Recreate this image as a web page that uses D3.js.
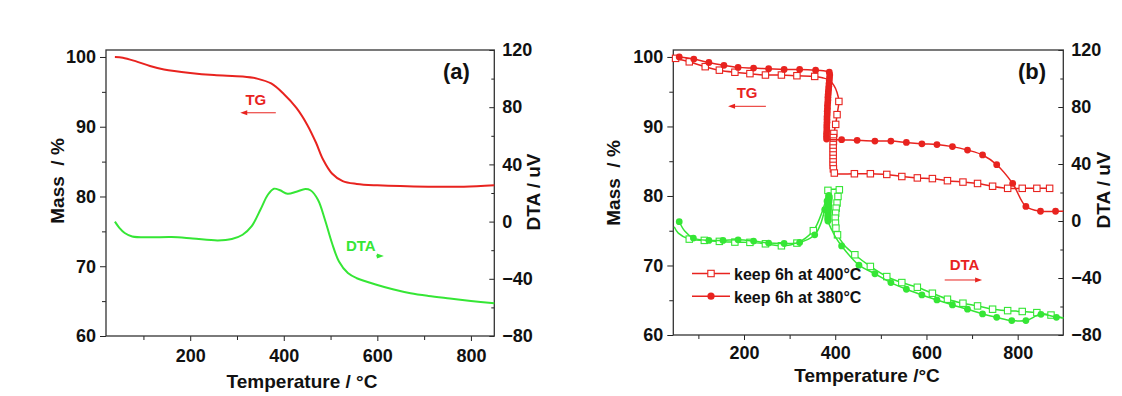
<!DOCTYPE html>
<html>
<head>
<meta charset="utf-8">
<script src="https://cdn.jsdelivr.net/npm/d3@7"></script>
<style>
  body { margin: 0; background: #fff; }
  svg { display: block; }
</style>
</head>
<body>
<svg width="1122" height="396"></svg>
<script>
const FONT = '"Liberation Sans", Arial, Helvetica, sans-serif';
const red = '#e8231f';
const green = '#35e635';

// ticks
const xTicks = [200, 400, 600, 800];
const xMinor = [100, 300, 500, 700];
const massTicks = [60, 70, 80, 90, 100];
const massMinor = [65, 75, 85, 95];
const dtaTicks = [-80, -40, 0, 40, 80, 120];
const dtaMinor = [-60, -20, 20, 60, 100];

// panel (a): [temperature, value]
const tgA = [[39,100.0],[56,99.9],[83,99.4],[114,98.7],[144,98.2],[200,97.7],[251,97.4],[312,97.2],
  [343,96.9],[373,96.2],[400,94.7],[427,92.7],[450,90.3],[469,87.7],[484,85.3],[503,83.3],[526,82.2],
  [556,81.8],[600,81.6],[709,81.4],[785,81.4],[850,81.6]];
const dtaA = [[39,0],[49,-4.5],[60,-8],[76,-10.4],[114,-11],[160,-10.8],[205,-11.8],[259,-13.2],
  [289,-12.2],[312,-9.2],[331,-3.4],[350,8.3],[366,18.8],[379,23],[392,21.9],[408,19.5],[427,20.9],
  [446,22.8],[457,21.9],[473,15.3],[488,1.3],[503,-15],[518,-27.9],[537,-36],[556,-39.6],[600,-44.3],
  [633,-47.3],[671,-50.1],[709,-52],[755,-53.8],[800,-55.5],[850,-57.1]];

// panel (b): [temperature, value, symbol drawn]
const tg400 = [[47,99.9,0],[50,99.8,1],[80,99.3,1],[115,98.6,1],[146,98.1,1],[180,97.8,1],[213,97.6,1],
  [247,97.4,1],[282,97.4,1],[316,97.3,1],[355,97.2,1],[372,97.0,0],[386,96.7,0],[397,95.9,0],
  [404,94.9,0],[408,93.6,1],[404,91.7,1],[401,90.3,1],[397,89.0,1],[396,88.4,1],[396,87.9,1],
  [395.5,87.4,1],[395.5,86.9,1],[395.5,86.4,1],[395.5,85.9,1],[395.5,85.4,1],[395.5,84.9,1],
  [395.5,84.4,1],[396,83.9,1],[398,83.3,1],[442,83.2,1],[477,83.2,1],[513,83.1,1],[546,82.8,1],
  [580,82.6,1],[613,82.5,1],[646,82.2,1],[680,82.0,1],[712,81.8,1],[745,81.4,1],[778,81.1,1],
  [810,81.1,1],[842,81.1,1],[870,81.1,1]];
const tg380 = [[58,100.0,1],[90,99.7,1],[123,99.2,1],[156,98.8,1],[187,98.5,1],[221,98.4,1],[254,98.3,1],
  [288,98.2,1],[322,98.2,1],[357,98.1,1],[374,98.0,0],[387,97.8,1],[388,97.4,1],[387.5,97.0,1],
  [387,96.6,1],[386.5,96.2,1],[386,95.8,1],[385.5,95.4,1],[385,95.0,1],[384.5,94.6,1],[384,94.2,1],
  [384,93.8,1],[383.5,93.4,1],[383,93.0,1],[383,92.6,1],[382.5,92.2,1],[382.5,91.8,1],[382,91.4,1],
  [382,91.0,1],[382,90.6,1],[381.5,90.2,1],[381.5,89.8,1],[381.5,89.4,1],[381,89.0,1],[381,88.6,1],
  [381,88.2,1],[392,88.1,0],[414,88.1,1],[448,88.0,1],[487,87.9,1],[522,87.9,1],[556,87.7,1],
  [590,87.5,1],[623,87.4,1],[657,87.1,1],[690,86.6,1],[723,85.9,1],[754,84.5,1],[789,81.8,1],
  [818,78.5,1],[850,77.8,1],[883,77.8,1],[900,77.8,0]];
const dta400 = [[47,-4,0],[56,-8.5,0],[80,-12.7,1],[113,-13.6,1],[146,-14.3,1],[180,-14.8,1],[213,-15,1],
  [247,-16,1],[282,-17.4,1],[316,-15.5,1],[352,-6.8,1],[366,2,0],[377,12,0],[384,21.5,1],[396,22.3,0],
  [409,21.9,1],[406,17.2,1],[404,12.6,1],[402,9,1],[401,5.5,1],[400,2,1],[400.5,-1.5,1],[401.5,-5,1],
  [405,-9.7,1],[420,-17,0],[443,-23.7,1],[477,-31.9,1],[513,-39,1],[546,-43.2,1],[580,-46.5,1],
  [613,-50.7,1],[646,-54.9,1],[680,-57.7,1],[712,-59.6,1],[745,-61.9,1],[778,-62.9,1],[810,-63.5,1],
  [842,-64.3,1],[873,-66,1],[900,-68,0]];
const dta380 = [[58,-0.5,1],[70,-7,0],[89,-12,1],[123,-13.6,1],[154,-13.6,1],[187,-13.2,1],[221,-14.1,1],
  [254,-15.5,1],[288,-15.8,1],[322,-15.1,1],[355,-9.7,1],[368,-2,0],[377,8,1],[382,14,1],[386,18,1],
  [387,17,1],[386.5,16,1],[386.5,15,1],[386,14,1],[386,13,1],[385.5,12,1],[385.5,11,1],[385,10,1],
  [385,9,1],[385,8,1],[384.5,7,1],[384.5,6,1],[384.5,5,1],[384,4,1],[384,3,1],[384,2,1],[384,1,1],
  [384,0,1],[392,-6,0],[401,-11.5,0],[414,-17.5,1],[452,-31,1],[487,-37,1],[522,-43.2,1],[556,-47.9,1],
  [590,-51.9,1],[623,-55.4,1],[657,-58.9,1],[690,-61.9,1],[723,-65.2,1],[754,-67.6,1],[787,-69.9,1],
  [818,-69.9,1],[851,-65.5,1],[885,-67.6,1],[900,-68,0]];

const legendLabels = ['keep 6h at 400°C', 'keep 6h at 380°C'];

const svg = d3.select('svg');
svg.append('rect').attr('width', 1122).attr('height', 396).attr('fill', '#fff');

function arrow(g, xa, xb, y, color) {
  const dir = xb > xa ? 1 : -1;
  g.append('line').attr('x1', xa).attr('x2', xb - dir * 4).attr('y1', y).attr('y2', y)
    .attr('stroke', color).attr('stroke-width', 1);
  g.append('path').attr('fill', color)
    .attr('d', `M${xb},${y}L${xb - dir * 7},${y - 2.5}L${xb - dir * 7},${y + 2.5}Z`);
}

function styleAxis(sel, size) {
  sel.attr('font-family', FONT).attr('font-size', size).attr('font-weight', 'bold')
    .attr('color', '#222');
  sel.select('.domain').remove();
  sel.selectAll('text').attr('fill', '#111');
}

function panel(p) {
  const g = svg.append('g');
  const x = d3.scaleLinear().domain(p.xDomain).range([p.left, p.right]);
  const yL = d3.scaleLinear().domain([60, 101]).range([p.bottom, p.top]);
  const yR = d3.scaleLinear().domain([-80, 120]).range([p.bottom, p.top]);

  // bottom axis
  g.append('g').attr('transform', `translate(0,${p.bottom})`)
    .call(d3.axisBottom(x).tickValues(xMinor).tickSize(4).tickFormat(''))
    .call(s => styleAxis(s, 18));
  g.append('g').attr('transform', `translate(0,${p.bottom})`)
    .call(d3.axisBottom(x).tickValues(xTicks).tickSize(5).tickPadding(p.xPad))
    .call(s => styleAxis(s, 18));
  // left axis
  g.append('g').attr('transform', `translate(${p.left},0)`)
    .call(d3.axisLeft(yL).tickValues(massMinor).tickSize(4).tickFormat(''))
    .call(s => styleAxis(s, 18));
  g.append('g').attr('transform', `translate(${p.left},0)`)
    .call(d3.axisLeft(yL).tickValues(massTicks).tickSize(6).tickPadding(4))
    .call(s => styleAxis(s, 18));
  // right axis, ticks inward
  g.append('g').attr('transform', `translate(${p.right},0)`)
    .call(d3.axisRight(yR).tickValues(dtaMinor).tickSize(-3).tickFormat(''))
    .call(s => styleAxis(s, 18));
  g.append('g').attr('transform', `translate(${p.right},0)`)
    .call(d3.axisRight(yR).tickValues(dtaTicks).tickSize(-5).tickPadding(8))
    .call(s => styleAxis(s, 18));

  g.append('rect').attr('x', p.left).attr('y', p.top)
    .attr('width', p.right - p.left).attr('height', p.bottom - p.top)
    .attr('fill', 'none').attr('stroke', '#333').attr('stroke-width', 1.3);

  const txt = (s, size) => g.append('text').attr('font-family', FONT).attr('font-weight', 'bold')
    .attr('font-size', size).attr('fill', '#111').style('white-space', 'pre').text(s);

  txt('Mass  / %', 19).attr('text-anchor', 'middle')
    .attr('transform', `translate(${p.massX},${p.massY}) rotate(-90)`);
  txt('DTA / uV', 19).attr('text-anchor', 'middle')
    .attr('transform', `translate(${p.dtaX},${p.dtaY}) rotate(-90)`);
  txt(p.xTitle, 19).attr('text-anchor', 'middle').attr('x', p.titleX).attr('y', p.titleY);
  txt(p.tag, 22).attr('x', p.tagX).attr('y', 79);

  // annotations, placed in data units
  txt('TG', 15).attr('fill', red).attr('x', x(p.tgText[0])).attr('y', yL(p.tgText[1]));
  arrow(g, x(p.tgArrow[0]), x(p.tgArrow[1]), yL(p.tgArrow[2]), red);
  txt('DTA', 15).attr('fill', p.dtaColor).attr('x', x(p.dtaText[0])).attr('y', yR(p.dtaText[1]));
  arrow(g, x(p.dtaArrow[0]), x(p.dtaArrow[1]), yR(p.dtaArrow[2]), p.dtaColor);

  return {g, x, yL, yR};
}

// panel (a)
const a = panel({
  xDomain: [20, 850], left: 106, right: 494.3, top: 50, bottom: 336, xPad: 8,
  massX: 64, massY: 181, dtaX: 540, dtaY: 192, titleX: 302, titleY: 388,
  xTitle: 'Temperature / °C', tag: '(a)', tagX: 443,
  tgText: [318, 93.1], tgArrow: [383, 307, 92.0],
  dtaText: [533, -20.5], dtaArrow: [597, 614, -24], dtaColor: green
});
const lineA = (y) => d3.line().x(d => a.x(d[0])).y(d => y(d[1])).curve(d3.curveCatmullRom.alpha(0.5));
a.g.append('path').datum(tgA).attr('fill', 'none').attr('stroke', red).attr('stroke-width', 2)
  .attr('d', lineA(a.yL));
a.g.append('path').datum(dtaA).attr('fill', 'none').attr('stroke', green).attr('stroke-width', 2)
  .attr('d', lineA(a.yR));

// panel (b)
const b = panel({
  xDomain: [45, 900], left: 673.3, right: 1063.3, top: 50, bottom: 335, xPad: 6,
  massX: 620, massY: 183, dtaX: 1110, dtaY: 190, titleX: 867, titleY: 381.5,
  xTitle: 'Temperature /°C', tag: '(b)', tagX: 1018,
  tgText: [184, 94.05], tgArrow: [248, 165, 92.9],
  dtaText: [651, -34.4], dtaArrow: [640, 722, -41.4], dtaColor: red
});

function series(data, y, color, symbol) {
  const line = d3.line().x(d => b.x(d[0])).y(d => y(d[1])).curve(d3.curveCatmullRom.alpha(0.5));
  b.g.append('path').datum(data).attr('fill', 'none').attr('stroke', color).attr('stroke-width', 1.5)
    .attr('d', line);
  const pts = data.filter(d => d[2]);
  if (symbol === 'square') {
    b.g.append('g').selectAll('rect').data(pts).join('rect')
      .attr('x', d => b.x(d[0]) - 3.2).attr('y', d => y(d[1]) - 3.2)
      .attr('width', 6.4).attr('height', 6.4)
      .attr('fill', '#fff').attr('stroke', color).attr('stroke-width', 1.1);
  } else {
    b.g.append('g').selectAll('circle').data(pts).join('circle')
      .attr('cx', d => b.x(d[0])).attr('cy', d => y(d[1])).attr('r', 3.4)
      .attr('fill', color);
  }
}

series(dta400, b.yR, green, 'square');
series(dta380, b.yR, green, 'circle');
series(tg400, b.yL, red, 'square');
series(tg380, b.yL, red, 'circle');

// legend
const leg = b.g.append('g').attr('transform', 'translate(692,273.5)');
legendLabels.forEach((label, i) => {
  const row = leg.append('g').attr('transform', `translate(0,${i * 22.7})`);
  row.append('line').attr('x1', 0).attr('x2', 38).attr('stroke', red).attr('stroke-width', 1.5);
  if (i === 0) {
    row.append('rect').attr('x', 15.8).attr('y', -3.2).attr('width', 6.4).attr('height', 6.4)
      .attr('fill', '#fff').attr('stroke', red).attr('stroke-width', 1.1);
  } else {
    row.append('circle').attr('cx', 19).attr('r', 3.6).attr('fill', red);
  }
  row.append('text').attr('x', 42).attr('y', 6.5).attr('font-family', FONT).attr('font-weight', 'bold')
    .attr('font-size', 16).attr('fill', '#111').text(label);
});
</script>
</body>
</html>
